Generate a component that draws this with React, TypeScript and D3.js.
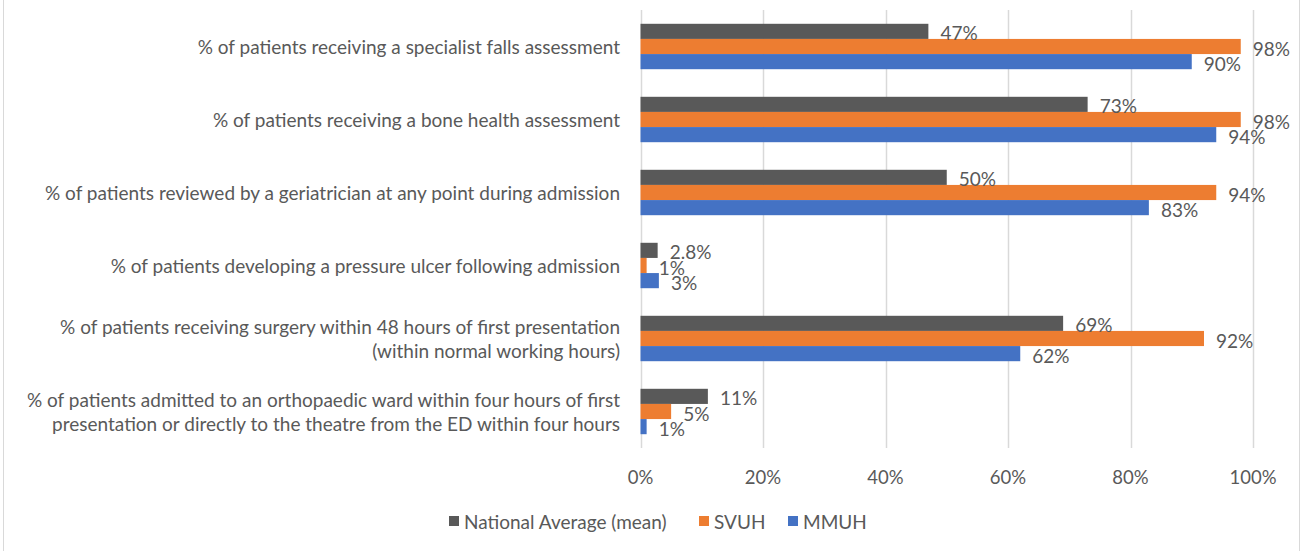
import React from 'react';
import * as d3 from 'd3';

// categories, top to bottom
const categories = [
  '% of patients receiving a specialist falls assessment',
  '% of patients receiving a bone health assessment',
  '% of patients reviewed by a geriatrician at any point during admission',
  '% of patients developing a pressure ulcer following admission',
  '% of patients receiving surgery within 48 hours of first presentation\n(within normal working hours)',
  '% of patients admitted to an orthopaedic ward within four hours of first\npresentation or directly to the theatre from the ED within four hours',
];

const seriesNames = ['National Average (mean)', 'SVUH', 'MMUH'];
const seriesColors = ['#595959', '#ED7D31', '#4472C4'];

const nationalAvg = [47, 73, 50, 2.8, 69, 11];
const svuh = [98, 98, 94, 1, 92, 5];
const mmuh = [90, 94, 83, 3, 62, 1];
const seriesValues = [nationalAvg, svuh, mmuh];

const xTicks = [0, 20, 40, 60, 80, 100];

const W = 1301;
const H = 551;
const FONT = 'Lato, "Open Sans", sans-serif';
const TEXT = '#595959';
const FS = 19;

const fmt = (v: number) => (Number.isInteger(v) ? `${v}%` : `${v.toFixed(1)}%`);

export default function App() {
  const x = d3.scaleLinear().domain([0, 100]).range([640.5, 1253]);
  const y0 = d3
    .scaleBand<number>()
    .domain(d3.range(categories.length))
    .range([10, 448])
    .paddingInner(0.378)
    .paddingOuter(0.189);
  const y1 = d3
    .scaleBand<number>()
    .domain(d3.range(seriesNames.length))
    .range([0, y0.bandwidth()]);

  const legendX = [449, 699, 788];

  return (
    <svg
      width={W}
      height={H}
      style={{ position: 'absolute', left: 0, top: 0, background: '#fff' }}
      fontFamily={FONT}
    >
      <rect x={0} y={0} width={W} height={H} fill="#fff" />
      <line x1={3.5} x2={3.5} y1={0} y2={H} stroke="#d9d9d9" />
      <line x1={1299.5} x2={1299.5} y1={0} y2={H} stroke="#d9d9d9" />

      {/* gridlines */}
      {xTicks.map(t => (
        <line
          key={'g' + t}
          x1={Math.round(x(t)) + 0.5}
          x2={Math.round(x(t)) + 0.5}
          y1={10}
          y2={448}
          stroke="#d9d9d9"
          strokeWidth={1.5}
        />
      ))}
      {xTicks.map(t => (
        <text
          key={'t' + t}
          x={x(t)}
          y={477}
          textAnchor="middle"
          dominantBaseline="central"
          fontSize={18.5}
          fill={TEXT}
        >
          {t}%
        </text>
      ))}

      {/* category labels */}
      {categories.map((c, i) => {
        const lines = c.split('\n');
        const cy = y0(i)! + y0.bandwidth() / 2;
        return (
          <text key={'c' + i} textAnchor="end" fontSize={FS} fill={TEXT}>
            {lines.map((l, j) => (
              <tspan
                key={j}
                x={620}
                y={cy + (j - (lines.length - 1) / 2) * 24}
                dominantBaseline="central"
              >
                {l}
              </tspan>
            ))}
          </text>
        );
      })}

      {/* bars */}
      {seriesValues.map((vals, s) =>
        vals.map((v, i) => (
          <rect
            key={`b${s}-${i}`}
            x={x(0)}
            y={y0(i)! + y1(s)!}
            width={x(v) - x(0)}
            height={y1.bandwidth()}
            fill={seriesColors[s]}
          />
        ))
      )}

      {/* data labels */}
      {seriesValues.map((vals, s) =>
        vals.map((v, i) => (
          <text
            key={`l${s}-${i}`}
            x={x(v) + 12}
            y={y0(i)! + y1(s)! + y1.bandwidth() / 2 + 1.5}
            dominantBaseline="central"
            fontSize={FS}
            fill={TEXT}
          >
            {fmt(v)}
          </text>
        ))
      )}

      {/* legend */}
      {seriesNames.map((n, s) => (
        <g key={'lg' + s}>
          <rect x={legendX[s]} y={516} width={10} height={10} fill={seriesColors[s]} />
          <text
            x={legendX[s] + 15}
            y={521}
            dominantBaseline="central"
            fontSize={FS}
            fill={TEXT}
          >
            {n}
          </text>
        </g>
      ))}
    </svg>
  );
}
